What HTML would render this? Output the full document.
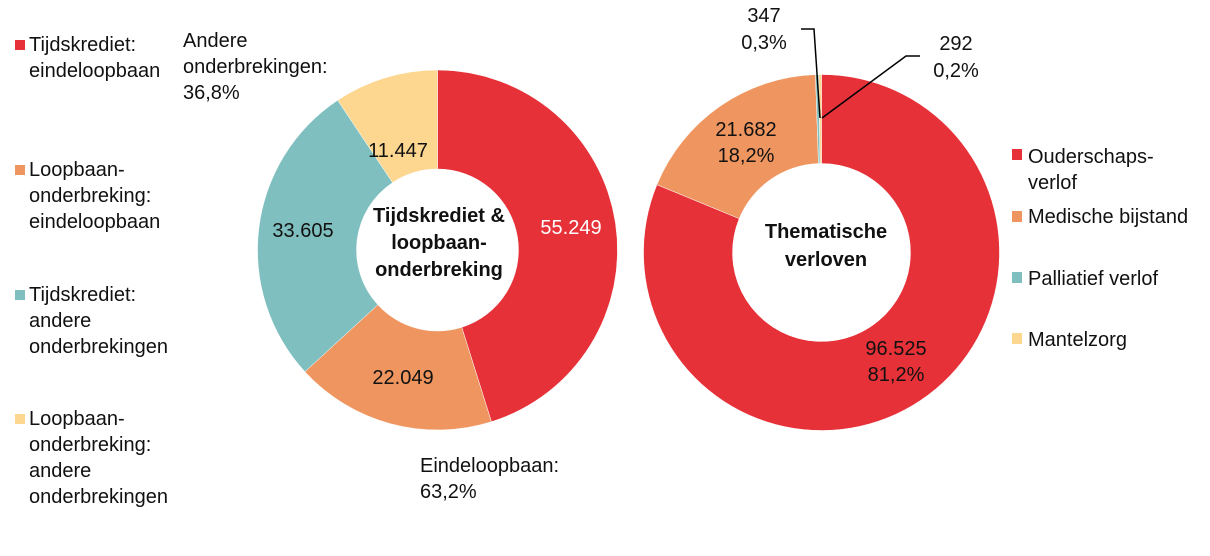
<!DOCTYPE html>
<html><head><meta charset="utf-8"><style>
body{margin:0;background:#fff;width:1210px;height:551px;overflow:hidden;font-family:"Liberation Sans",sans-serif}
svg text{font-family:"Liberation Sans",sans-serif;font-size:20px;fill:#111}
</style></head><body>
<svg width="1210" height="551">
<g id="left"></g>
<g id="right"></g>
<g>
<rect x="15" y="40" width="10" height="10" fill="#e63138"/>
<text x="29" y="51">Tijdskrediet:</text><text x="29" y="77">eindeloopbaan</text>
<rect x="15" y="165" width="10" height="10" fill="#ef9660"/>
<text x="29" y="176">Loopbaan-</text><text x="29" y="202">onderbreking:</text><text x="29" y="228">eindeloopbaan</text>
<rect x="15" y="290" width="10" height="10" fill="#80bfbf"/>
<text x="29" y="301">Tijdskrediet:</text><text x="29" y="327">andere</text><text x="29" y="353">onderbrekingen</text>
<rect x="15" y="414" width="10" height="10" fill="#fdd68f"/>
<text x="29" y="425">Loopbaan-</text><text x="29" y="451">onderbreking:</text><text x="29" y="477">andere</text><text x="29" y="503">onderbrekingen</text>
</g>
<g>
<rect x="1012" y="149" width="10" height="11" fill="#e63138"/>
<text x="1028" y="163">Ouderschaps-</text><text x="1028" y="189">verlof</text>
<rect x="1012" y="211" width="10" height="11" fill="#ef9660"/>
<text x="1028" y="223">Medische bijstand</text>
<rect x="1012" y="272" width="10" height="11" fill="#80bfbf"/>
<text x="1028" y="285">Palliatief verlof</text>
<rect x="1012" y="333" width="10" height="11" fill="#fdd68f"/>
<text x="1028" y="346">Mantelzorg</text>
</g>
<g>
<text x="183" y="47">Andere</text><text x="183" y="73">onderbrekingen:</text><text x="183" y="99">36,8%</text>
<text x="420" y="472">Eindeloopbaan:</text><text x="420" y="498">63,2%</text>
<text x="571" y="234" text-anchor="middle" style="fill:#fff">55.249</text>
<text x="403" y="384" text-anchor="middle">22.049</text>
<text x="303" y="237" text-anchor="middle">33.605</text>
<text x="398" y="157" text-anchor="middle">11.447</text>
<text x="439" y="222" text-anchor="middle" style="font-weight:bold">Tijdskrediet &amp;</text>
<text x="439" y="249" text-anchor="middle" style="font-weight:bold">loopbaan-</text>
<text x="439" y="276" text-anchor="middle" style="font-weight:bold">onderbreking</text>
</g>
<g>
<text x="826" y="238" text-anchor="middle" style="font-weight:bold">Thematische</text>
<text x="826" y="266" text-anchor="middle" style="font-weight:bold">verloven</text>
<text x="746" y="136" text-anchor="middle">21.682</text><text x="746" y="162" text-anchor="middle">18,2%</text>
<text x="896" y="355" text-anchor="middle">96.525</text><text x="896" y="381" text-anchor="middle">81,2%</text>
<text x="764" y="22" text-anchor="middle">347</text><text x="764" y="49" text-anchor="middle">0,3%</text>
<text x="956" y="50" text-anchor="middle">292</text><text x="956" y="77" text-anchor="middle">0,2%</text>
<polyline points="801,29 814,29 820,118" fill="none" stroke="#000" stroke-width="1.5"/>
<polyline points="920,56 906,56 822,118" fill="none" stroke="#000" stroke-width="1.5"/>
</g>
</svg>
<script>
const leftValues=[55249,22049,33605,11447];
const rightValues=[96525,21682,347,292];
const colors=["#e63138","#ef9660","#80bfbf","#fdd68f"];
const NS="http://www.w3.org/2000/svg";
function donut(g,vals,cx,cy,ro,ri){
  const tot=vals.reduce((a,b)=>a+b,0);let a0=0;
  vals.forEach((v,i)=>{
    const a1=a0+v/tot*2*Math.PI;
    const p=(a,r)=>[cx+r*Math.sin(a),cy-r*Math.cos(a)];
    const [x0,y0]=p(a0,ro),[x1,y1]=p(a1,ro),[x2,y2]=p(a1,ri),[x3,y3]=p(a0,ri);
    const lg=(a1-a0)>Math.PI?1:0;
    const path=document.createElementNS(NS,"path");
    path.setAttribute("d",`M${x0},${y0}A${ro},${ro} 0 ${lg} 1 ${x1},${y1}L${x2},${y2}A${ri},${ri} 0 ${lg} 0 ${x3},${y3}Z`);
    path.setAttribute("fill",colors[i]);
    path.setAttribute("stroke","#fff");path.setAttribute("stroke-width","0.5");
    
    
    g.appendChild(path);a0=a1;
  });
}
donut(document.getElementById("left"),leftValues,437.5,250,180,81);
donut(document.getElementById("right"),rightValues,821.5,252.5,178,89);
</script>
</body></html>
